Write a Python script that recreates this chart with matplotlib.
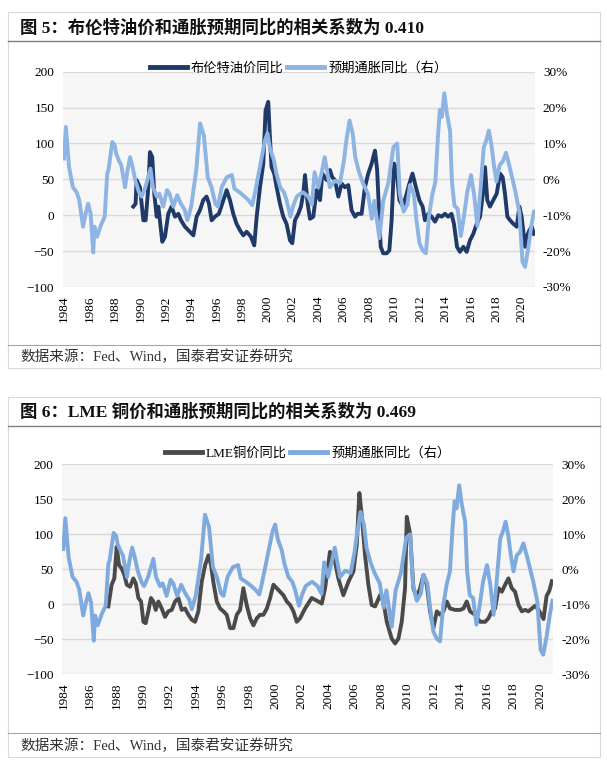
import matplotlib
matplotlib.use('Agg')
import matplotlib.pyplot as plt
from matplotlib.lines import Line2D
from matplotlib.patches import Rectangle

# 预期通胀同比 (右轴, %)
infl_years = [1984.0, 1984.15, 1984.4, 1984.7, 1985.0, 1985.2, 1985.5, 1985.7, 1985.9, 1986.1,
              1986.3, 1986.4, 1986.6, 1986.9, 1987.2, 1987.4, 1987.5, 1987.8, 1988.0, 1988.1,
              1988.3, 1988.5, 1988.8, 1989.0, 1989.2, 1989.4, 1989.6, 1989.9, 1990.1, 1990.4,
              1990.8, 1991.0, 1991.3, 1991.5, 1991.8, 1992.1, 1992.3, 1992.6, 1992.9, 1993.2,
              1993.5, 1993.7, 1994.0, 1994.4, 1994.7, 1995.0, 1995.3, 1995.6, 1995.9, 1996.1,
              1996.4, 1996.8, 1997.2, 1997.4, 1997.8, 1998.2, 1998.5, 1998.8, 1999.0, 1999.4,
              1999.8, 2000.0, 2000.2, 2000.5, 2000.7, 2001.0, 2001.3, 2001.5, 2001.8, 2002.0,
              2002.3, 2002.6, 2002.8, 2003.2, 2003.5, 2003.7, 2004.0, 2004.3, 2004.5, 2004.9,
              2005.3, 2005.7, 2006.0, 2006.2, 2006.45, 2006.7, 2006.9, 2007.2, 2007.5, 2007.9,
              2008.2, 2008.4, 2008.8, 2009.1, 2009.5, 2009.9, 2010.2, 2010.4, 2010.7, 2011.0,
              2011.2, 2011.5, 2011.7, 2011.95, 2012.2, 2012.45, 2012.7, 2012.95, 2013.2, 2013.4,
              2013.55, 2013.7, 2013.9, 2014.1, 2014.35, 2014.5, 2014.7, 2014.95, 2015.2, 2015.45,
              2015.7, 2016.0, 2016.25, 2016.5, 2016.75, 2017.0, 2017.2, 2017.4, 2017.6, 2017.8,
              2018.0, 2018.25, 2018.5, 2018.75, 2019.0, 2019.25, 2019.5, 2019.8, 2020.05, 2020.25,
              2020.5, 2020.75, 2020.95]
infl_vals = [5.8, 14.6, 3.4, -2.2, -3.6, -5.8, -13.2, -9.6, -6.8, -9.6,
             -20.4, -13.2, -16.0, -12.8, -10.4, 1.6, 2.6, 10.4, 9.4, 7.2,
             5.4, 4.0, -2.2, 2.6, 6.2, 3.4, -0.2, -3.6, -4.8, -2.2,
             3.0, -2.2, -4.8, -4.0, -7.6, -3.0, -4.0, -7.6, -4.4, -6.8,
             -8.6, -11.4, -7.6, 2.6, 15.6, 12.2, 0.6, -2.2, -6.8, -7.6,
             -2.2, 0.6, 1.2, -2.6, -3.6, -4.8, -5.8, -7.2, -4.0, 3.4,
             10.8, 12.8, 8.6, 5.4, 1.6, -2.2, -3.6, -5.8, -10.4, -7.6,
             -4.8, -4.0, -3.6, -4.8, -7.0, 2.0, -2.2, 2.6, 6.2, -2.2,
             -0.4, -1.0, 5.0, 10.8, 16.4, 12.8, 6.2, 2.0, -1.0, -4.0,
             -11.0, -6.0, -16.4, -6.0, -1.0, 9.0, 10.0, -4.0, -9.0, -7.0,
             -1.6, -4.0, -11.0, -17.8, -19.8, -20.6, -10.2, -4.4, -0.6, 12.0,
             19.4, 17.4, 24.0, 18.4, 13.6, -0.6, -7.4, -8.2, -15.8, -10.2,
             -3.6, 1.2, -4.4, -13.0, -2.6, 8.8, 10.8, 13.6, 9.8, 4.0,
             -0.6, 4.0, 5.0, 7.4, 4.0, 0.2, -3.6, -9.2, -23.0, -24.4,
             -19.2, -12.8, -9.0]

# 布伦特油价同比 (左轴, %)
oil_years = [1989.45, 1989.63, 1989.71, 1989.97, 1990.24, 1990.42, 1990.63, 1990.76, 1990.94, 1991.10,
             1991.29, 1991.42, 1991.73, 1991.94, 1992.20, 1992.46, 1992.73, 1992.99, 1993.20, 1993.51,
             1993.90, 1994.17, 1994.43, 1994.69, 1994.95, 1995.21, 1995.40, 1995.61, 1995.87, 1996.18,
             1996.53, 1996.79, 1997.05, 1997.31, 1997.57, 1997.84, 1998.10, 1998.36, 1998.70, 1998.96,
             1999.15, 1999.41, 1999.67, 1999.85, 2000.06, 2000.19, 2000.32, 2000.53, 2000.72, 2000.98,
             2001.24, 2001.50, 2001.77, 2001.95, 2002.16, 2002.42, 2002.63, 2002.81, 2002.95, 2003.16,
             2003.34, 2003.60, 2003.86, 2004.13, 2004.31, 2004.65, 2004.91, 2005.09, 2005.30, 2005.57,
             2005.83, 2006.09, 2006.35, 2006.61, 2006.88, 2007.09, 2007.40, 2007.66, 2007.92, 2008.19,
             2008.45, 2008.62, 2008.90, 2009.10, 2009.37, 2009.58, 2009.76, 2009.95, 2010.15, 2010.37,
             2010.65, 2010.94, 2011.15, 2011.40, 2011.67, 2011.94, 2012.20, 2012.38, 2012.65, 2012.90,
             2013.17, 2013.43, 2013.70, 2013.95, 2014.20, 2014.47, 2014.66, 2014.90, 2015.13, 2015.40,
             2015.66, 2015.92, 2016.18, 2016.45, 2016.71, 2016.97, 2017.10, 2017.28, 2017.49, 2017.75,
             2018.02, 2018.28, 2018.49, 2018.67, 2018.86, 2019.07, 2019.33, 2019.60, 2019.80, 2019.98,
             2020.25, 2020.38, 2020.59, 2020.77, 2020.95]
oil_vals = [12, 16, 49, 39, -7, -7, 39, 88, 81, 30,
            -2, 12, -37, -30, 2, 12, -2, 2, -7, -16,
            -23, -28, -2, 7, 21, 26, 16, -7, -2, 2,
            21, 35, 21, 2, -12, -21, -28, -23, -30, -42,
            -2, 39, 72, 146, 158, 109, 67, 58, 39, 16,
            -2, -12, -35, -39, -7, 2, 12, 30, 56, 16,
            -5, -2, 35, 21, 58, 49, 63, 53, 49, 26,
            44, 39, 42, 7, -2, 2, 2, 39, 58, 72,
            90, 63, -44, -53, -53, -49, -7, 72, 63, 21,
            12, 30, 44, 58, 39, 21, 12, -7, 2, -2,
            -9, 0, -2, 2, -2, 2, -12, -44, -51, -44,
            -51, -35, -26, -12, -2, 35, 67, 21, 12, 21,
            30, 58, 53, 30, -2, -7, -12, -16, 12, -2,
            -44, -30, -21, -16, -26]

# LME铜价同比 (左轴, %)
copper_years = [1987.40, 1987.65, 1987.85, 1988.03, 1988.21, 1988.41, 1988.61, 1988.79, 1989.04, 1989.29,
                1989.47, 1989.67, 1989.87, 1990.05, 1990.22, 1990.42, 1990.62, 1990.80, 1990.98, 1991.18,
                1991.43, 1991.68, 1991.93, 1992.19, 1992.44, 1992.69, 1992.94, 1993.19, 1993.45, 1993.70,
                1993.95, 1994.20, 1994.45, 1994.71, 1994.96, 1995.16, 1995.33, 1995.59, 1995.84, 1996.09,
                1996.34, 1996.60, 1996.85, 1997.10, 1997.35, 1997.60, 1997.85, 1998.11, 1998.36, 1998.61,
                1998.86, 1999.11, 1999.37, 1999.62, 1999.87, 2000.12, 2000.37, 2000.62, 2000.88, 2001.13,
                2001.38, 2001.63, 2001.88, 2002.26, 2002.76, 2003.26, 2003.52, 2003.77, 2004.14, 2004.52,
                2004.77, 2005.15, 2005.53, 2005.91, 2006.16, 2006.36, 2006.54, 2006.79, 2007.04, 2007.29,
                2007.55, 2007.92, 2008.17, 2008.43, 2008.80, 2009.06, 2009.31, 2009.56, 2009.81, 2009.94,
                2010.19, 2010.44, 2010.69, 2010.95, 2011.20, 2011.45, 2011.70, 2011.95, 2012.21, 2012.46,
                2012.71, 2012.96, 2013.21, 2013.59, 2013.97, 2014.22, 2014.47, 2014.72, 2015.10, 2015.48,
                2015.86, 2016.11, 2016.36, 2016.61, 2016.87, 2017.12, 2017.37, 2017.62, 2017.87, 2018.12,
                2018.38, 2018.63, 2018.88, 2019.13, 2019.38, 2019.64, 2019.90, 2020.10, 2020.27, 2020.50,
                2020.70, 2020.90]
copper_vals = [-3, 28, 37, 82, 56, 51, 42, 28, 25, 37,
               30, 9, 4, -25, -27, -10, 9, 4, -8, 4,
               -6, -18, -10, -8, 4, 9, -8, -6, -15, -22,
               -25, -10, 32, 56, 70, 56, 32, 4, -6, -10,
               -15, -34, -34, -15, -8, 23, -1, -20, -30, -20,
               -15, -15, -6, 9, 28, 23, 18, 13, 4, -1,
               -10, -25, -20, -6, 9, 4, 1, 23, 75, 61,
               37, 13, 32, 47, 85, 159, 127, 70, 28, -1,
               -3, 13, 4, -25, -49, -56, -49, -25, 23, 125,
               101, 23, 9, 23, 42, 28, -10, -34, -10, -15,
               -10, 4, -6, -8, -8, -6, 4, -10, -15, -25,
               -25, -20, -10, -6, 23, 18, 28, 37, 23, 18,
               -1, -10, -8, -10, -6, -2, -8, -15, -21, 12,
               19, 33]

years_ticks = list(range(1984, 2021, 2))

W, H = 607, 764
fig = plt.figure(figsize=(W / 100, H / 100), dpi=100)
fig.patch.set_facecolor('white')

FONT = ['Liberation Serif', 'Noto Sans CJK SC']


def fx(x):
    return x / W


def fy(y):
    return 1 - y / H


def frame(top, title, title_y, rule_y, sep_y, src_y, bottom):
    fig.add_artist(Rectangle((fx(8), fy(bottom)), fx(600) - fx(8), fy(top) - fy(bottom),
                             transform=fig.transFigure, fill=False, edgecolor='#d9d9d9', lw=0.8))
    fig.text(fx(20), fy(title_y), title, family=FONT, fontsize=12.5,
             fontweight='bold', va='center', ha='left', color='#111111')
    fig.add_artist(Line2D([fx(8), fx(600)], [fy(rule_y), fy(rule_y)],
                          transform=fig.transFigure, color='#7f7f7f', lw=1.0))
    fig.add_artist(Line2D([fx(8), fx(600)], [fy(sep_y), fy(sep_y)],
                          transform=fig.transFigure, color='#a6a6a6', lw=0.8))
    fig.text(fx(20), fy(src_y), '数据来源：Fed、Wind，国泰君安证券研究', family=FONT,
             fontsize=10.5, va='center', ha='left', color='#333333')


def panel(x0, x1, ytop, ybot, yrs, vals, color, label, infl_color, legend_y):
    ax = fig.add_axes([fx(x0), fy(ybot), fx(x1) - fx(x0), fy(ytop) - fy(ybot)])
    ax.set_facecolor('#f6f6f6')
    ax.set_xlim(1983.9, 2021.0)
    ax.set_ylim(-100, 200)
    ax.set_yticks(range(-100, 201, 50))
    ax.set_xticks(years_ticks)
    ax.set_xticklabels([str(y) for y in years_ticks], rotation=90, family=FONT, fontsize=9.5)
    for t in ax.get_yticklabels():
        t.set_family(FONT)
        t.set_fontsize(9.5)
    ax.tick_params(length=0, pad=6)
    ax.grid(axis='y', color='#d9d9d9', lw=1.0)
    ax.set_axisbelow(True)
    for s in ax.spines.values():
        s.set_visible(False)
    ax.plot(yrs, vals, color=color, lw=2.8, solid_joinstyle='round')

    ax2 = ax.twinx()
    ax2.set_ylim(-30, 30)
    ax2.set_yticks(range(-30, 31, 10))
    ax2.set_yticklabels(['%d%%' % v for v in range(-30, 31, 10)], family=FONT, fontsize=9.5)
    ax2.tick_params(length=0, pad=6)
    for s in ax2.spines.values():
        s.set_visible(False)
    ax2.plot(infl_years, infl_vals, color=infl_color, lw=2.8, solid_joinstyle='round')

    handles = [Line2D([], [], color=color, lw=3.5), Line2D([], [], color=infl_color, lw=3.5)]
    fig.legend(handles, [label, '预期通胀同比（右）'], loc='center',
               bbox_to_anchor=(fx((x0 + x1) / 2), fy(legend_y)), ncol=2, frameon=False,
               prop={'family': FONT, 'size': 9.5}, handlelength=2.8, handletextpad=0.3,
               columnspacing=0.3, borderpad=0)


frame(12, '图 5：布伦特油价和通胀预期同比的相关系数为 0.410', 28, 41, 345, 357, 368)
panel(62.7, 534.6, 71.7, 287, oil_years, oil_vals, '#1f3a68', '布伦特油价同比', '#8db4e2', 68)

frame(397, '图 6：LME 铜价和通胀预期同比的相关系数为 0.469', 412, 426, 733, 746, 757)
panel(62, 553.2, 464.3, 674.3, copper_years, copper_vals, '#4a4a4a', 'LME铜价同比', '#7faade', 453)

fig.savefig('out.png', dpi=100, facecolor='white')
